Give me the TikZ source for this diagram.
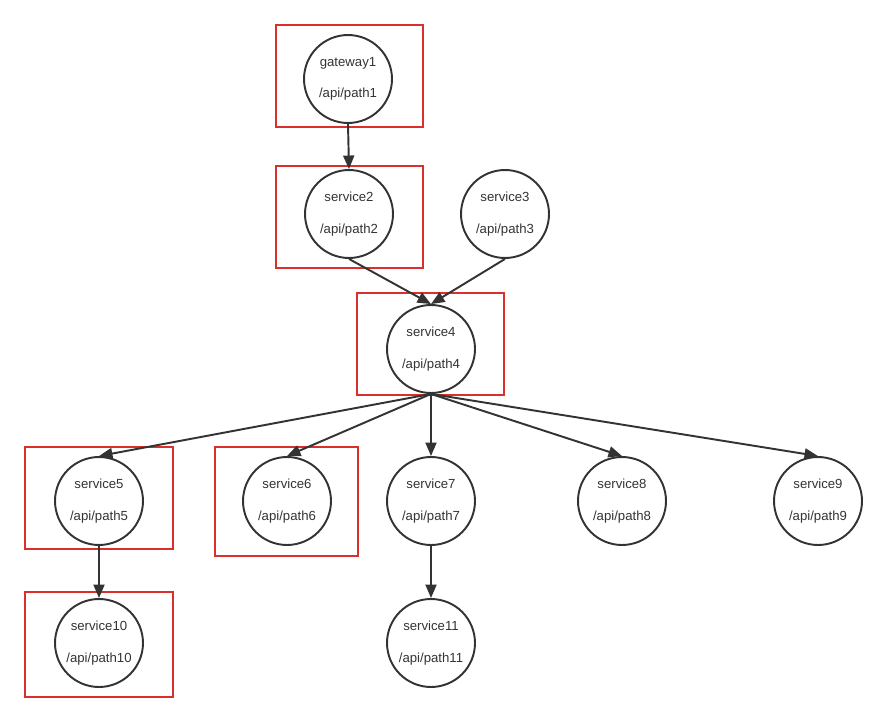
\documentclass[tikz,border=0pt]{standalone}
\usepackage{fontspec}
\setmainfont{Liberation Sans}
\usetikzlibrary{arrows.meta,positioning}
\definecolor{ink}{HTML}{333333}
\definecolor{boxred}{HTML}{D9302E}
\tikzset{
  svc/.style    = {draw=ink, circle, line width=1.1pt, minimum size=1.76cm,
                   inner sep=0pt, align=center, text=ink,
                   font=\fontsize{7.5}{18}\selectfont},
  redbox/.style = {draw=boxred, line width=1.1pt},
  arr/.style    = {-{Triangle[length=2.7mm,width=2.2mm]}, draw=ink, line width=1.1pt},
}

\begin{document}
\begin{tikzpicture}[x=0.02cm, y=-0.02cm]
  \useasboundingbox (0,0) rectangle (886,723);

  % red frames
  \draw[redbox] (276,25)  rectangle (423,127);
  \draw[redbox] (276,166) rectangle (423,268);
  \draw[redbox] (357,293) rectangle (504,395);
  \draw[redbox] (25,447)  rectangle (173,549);
  \draw[redbox] (215,447) rectangle (358,556);
  \draw[redbox] (25,592)  rectangle (173,697);

  % services
  \node[svc] (g1)  at (348,79)  {gateway1\\/api/path1};
  \node[svc] (s2)  at (349,214) {service2\\/api/path2};
  \node[svc] (s3)  at (505,214) {service3\\/api/path3};
  \node[svc] (s4)  at (431,349) {service4\\/api/path4};
  \node[svc] (s5)  at (99,501)  {service5\\/api/path5};
  \node[svc] (s6)  at (287,501) {service6\\/api/path6};
  \node[svc] (s7)  at (431,501) {service7\\/api/path7};
  \node[svc] (s8)  at (622,501) {service8\\/api/path8};
  \node[svc] (s9)  at (818,501) {service9\\/api/path9};
  \node[svc] (s10) at (99,643)  {service10\\/api/path10};
  \node[svc] (s11) at (431,643) {service11\\/api/path11};

  % calls
  \draw[arr] (g1.south) -- (s2.north);
  \draw[arr] (s2.south) -- (s4.north);
  \draw[arr] (s3.south) -- (s4.north);
  \foreach \t in {s5,s6,s7,s8,s9}
    \draw[arr] (s4.south) -- (\t.north);
  \draw[arr] (s5.south) -- (s10.north);
  \draw[arr] (s7.south) -- (s11.north);
\end{tikzpicture}
\end{document}
